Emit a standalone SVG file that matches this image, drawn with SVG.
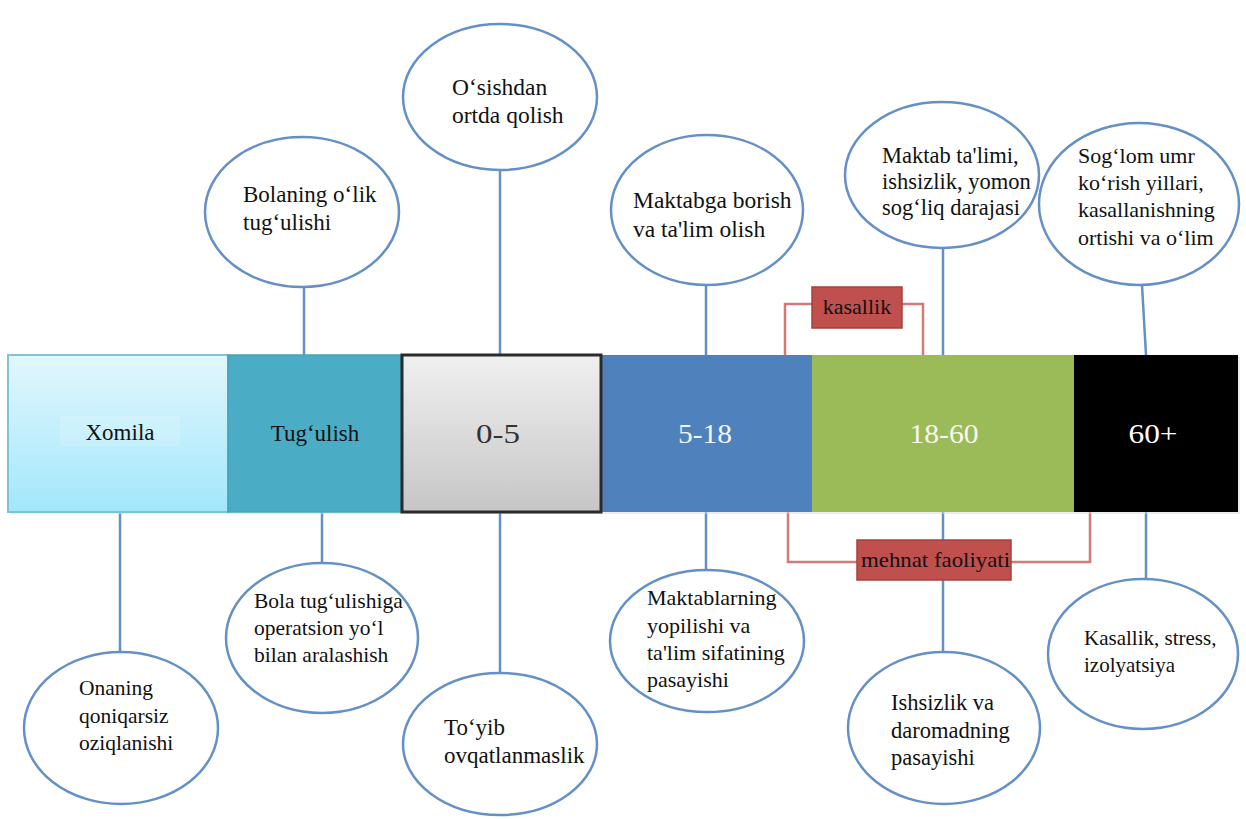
<svg xmlns="http://www.w3.org/2000/svg" width="1246" height="819" viewBox="0 0 1246 819">
<defs>
<linearGradient id="gXom" x1="0" y1="0" x2="0" y2="1">
<stop offset="0" stop-color="#e2f7fd"/>
<stop offset="1" stop-color="#a2e7fb"/>
</linearGradient>
<linearGradient id="gGrey" x1="0" y1="0" x2="0" y2="1">
<stop offset="0" stop-color="#f0f0f0"/>
<stop offset="1" stop-color="#c6c6c6"/>
</linearGradient>
<style>
.ell{fill:#ffffff;stroke:#6490c6;stroke-width:2.5}
.con{stroke:#6490c6;stroke-width:2.5;fill:none}
.brk{stroke:#d27a77;stroke-width:2.5;fill:none}
.rbox{fill:#c0504d;stroke:#a8403d;stroke-width:1.5}
text{font-family:"Liberation Serif","Times New Roman",serif}
.t{font-size:22px;fill:#111}
.bt{font-size:23px;text-anchor:middle}
.num{font-size:27px;text-anchor:middle}
</style>
</defs>
<rect width="1246" height="819" fill="#ffffff"/>

<g id="connectors">
<line class="con" x1="304" y1="287" x2="304" y2="355"/>
<line class="con" x1="500" y1="170" x2="500" y2="355"/>
<line class="con" x1="706" y1="285" x2="706" y2="355"/>
<line class="con" x1="943" y1="248" x2="943" y2="355"/>
<line class="con" x1="1142" y1="285" x2="1146" y2="355"/>
<line class="con" x1="120" y1="512" x2="120" y2="652"/>
<line class="con" x1="322" y1="512" x2="322" y2="563"/>
<line class="con" x1="500" y1="512" x2="500" y2="673"/>
<line class="con" x1="706" y1="512" x2="706" y2="570"/>
<line class="con" x1="943" y1="512" x2="943" y2="652"/>
<line class="con" x1="1146" y1="512" x2="1146" y2="579"/>
<polyline class="brk" points="785,355 785,304 812,304"/>
<polyline class="brk" points="902,304 923,304 923,355"/>
<polyline class="brk" points="788,512 788,562 857,562"/>
<polyline class="brk" points="1011,562 1090,562 1090,512"/>
</g>

<g id="bar">
<rect x="10" y="357" width="1230" height="157" fill="#d9d9d9" opacity="0.5"/>
<g id="seg-xomila">
<rect x="8" y="355" width="220" height="157" fill="url(#gXom)" stroke="#7fc3d8" stroke-width="2"/>
<rect x="60" y="416" width="120" height="30" fill="#ffffff" opacity="0.15"/>
<text class="bt" x="120" y="440" fill="#111">Xomila</text>
</g>
<g id="seg-tugulish">
<rect x="228" y="355" width="173" height="157" fill="#4bacc6" stroke="#46a2bb" stroke-width="1.5"/>
<text class="bt" x="315" y="441" fill="#111">Tug‘ulish</text>
</g>
<g id="seg-5-18">
<rect x="602" y="355" width="210" height="157" fill="#4f81bd"/>
<text class="num" x="705" y="443" fill="#f2f5fb" textLength="54" lengthAdjust="spacingAndGlyphs">5-18</text>
</g>
<g id="seg-18-60">
<rect x="812" y="355" width="262" height="157" fill="#9bbb59"/>
<text class="num" x="944" y="443" fill="#f7f9ee" textLength="69" lengthAdjust="spacingAndGlyphs">18-60</text>
</g>
<g id="seg-60">
<rect x="1074" y="355" width="164" height="157" fill="#000000"/>
<text class="num" x="1153" y="443" fill="#ffffff" textLength="49" lengthAdjust="spacingAndGlyphs">60+</text>
</g>
<g id="seg-0-5">
<rect x="402" y="355" width="199" height="157" fill="url(#gGrey)" stroke="#2b2b2b" stroke-width="3"/>
<text class="num" x="498" y="443" fill="#333333" textLength="44" lengthAdjust="spacingAndGlyphs">0-5</text>
</g>
</g>

<g id="box-kasallik">
<rect class="rbox" x="812" y="287" width="90" height="41"/>
<text class="bt" x="857" y="314" fill="#111" style="font-size:22px">kasallik</text>
</g>
<g id="box-mehnat">
<rect class="rbox" x="857" y="540" width="154" height="40"/>
<text class="t" x="861" y="567" textLength="149" lengthAdjust="spacingAndGlyphs">mehnat faoliyati</text>
</g>

<g id="n-bolaning" style="font-size:23px">
<ellipse class="ell" cx="302" cy="212" rx="97" ry="75"/>
<text x="243" y="202" fill="#111">Bolaning o‘lik</text>
<text x="243" y="230" fill="#111">tug‘ulishi</text>
</g>
<g id="n-osishdan" style="font-size:23.5px">
<ellipse class="ell" cx="500" cy="97" rx="97" ry="73"/>
<text x="452" y="95" fill="#111">O‘sishdan</text>
<text x="452" y="123" fill="#111">ortda qolish</text>
</g>
<g id="n-maktabga" style="font-size:23.5px">
<ellipse class="ell" cx="707" cy="210" rx="96" ry="75"/>
<text x="633" y="208" fill="#111">Maktabga borish</text>
<text x="633" y="237" fill="#111">va ta'lim olish</text>
</g>
<g id="n-maktab-talimi" style="font-size:22.5px">
<ellipse class="ell" cx="942" cy="175" rx="97" ry="73"/>
<text x="882" y="163" fill="#111">Maktab ta'limi,</text>
<text x="882" y="189" fill="#111">ishsizlik, yomon</text>
<text x="882" y="215" fill="#111">sog‘liq darajasi</text>
</g>
<g id="n-soglom" style="font-size:22px">
<ellipse class="ell" cx="1139" cy="204" rx="100" ry="81"/>
<text x="1078" y="163" fill="#111">Sog‘lom umr</text>
<text x="1078" y="190" fill="#111">ko‘rish yillari,</text>
<text x="1078" y="217" fill="#111">kasallanishning</text>
<text x="1078" y="245" fill="#111">ortishi va o‘lim</text>
</g>

<g id="n-onaning" style="font-size:21.5px">
<ellipse class="ell" cx="121" cy="728" rx="97" ry="76"/>
<text x="79" y="695" fill="#111">Onaning</text>
<text x="79" y="723" fill="#111">qoniqarsiz</text>
<text x="79" y="750" fill="#111">oziqlanishi</text>
</g>
<g id="n-bola" style="font-size:21.5px">
<ellipse class="ell" cx="322" cy="638" rx="96" ry="75"/>
<text x="254" y="608" fill="#111">Bola tug‘ulishiga</text>
<text x="254" y="635" fill="#111">operatsion yo‘l</text>
<text x="254" y="662" fill="#111">bilan aralashish</text>
</g>
<g id="n-toyib" style="font-size:23px">
<ellipse class="ell" cx="500" cy="744" rx="97" ry="71"/>
<text x="444" y="735" fill="#111">To‘yib</text>
<text x="444" y="763" fill="#111">ovqatlanmaslik</text>
</g>
<g id="n-maktablarning" style="font-size:22px">
<ellipse class="ell" cx="707" cy="641" rx="97" ry="71"/>
<text x="647" y="605" fill="#111">Maktablarning</text>
<text x="647" y="633" fill="#111">yopilishi va</text>
<text x="647" y="660" fill="#111">ta'lim sifatining</text>
<text x="647" y="687" fill="#111">pasayishi</text>
</g>
<g id="n-ishsizlik" style="font-size:22.5px">
<ellipse class="ell" cx="944" cy="728" rx="96" ry="76"/>
<text x="891" y="710" fill="#111">Ishsizlik va</text>
<text x="891" y="738" fill="#111">daromadning</text>
<text x="891" y="765" fill="#111">pasayishi</text>
</g>
<g id="n-kasallik" style="font-size:21px">
<ellipse class="ell" cx="1143" cy="654" rx="95" ry="75"/>
<text x="1084" y="645" fill="#111">Kasallik, stress,</text>
<text x="1084" y="672" fill="#111">izolyatsiya</text>
</g>
</svg>
